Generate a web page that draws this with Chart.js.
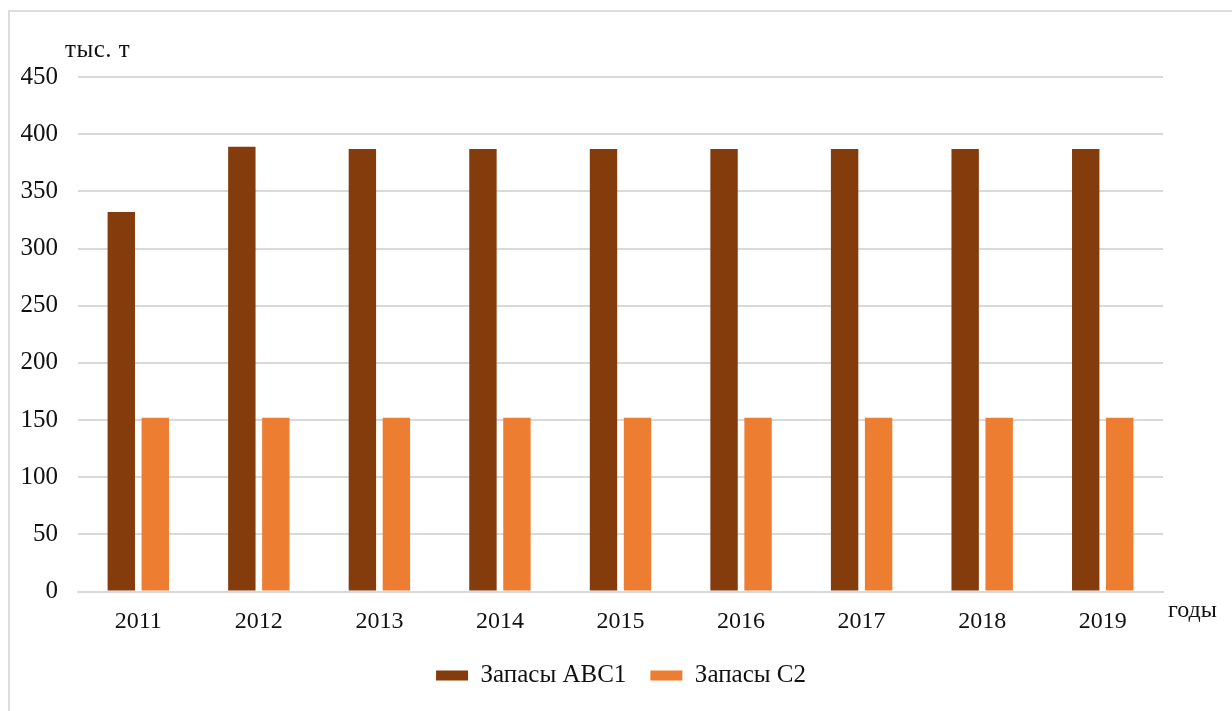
<!DOCTYPE html>
<html>
<head>
<meta charset="utf-8">
<script src="https://cdn.jsdelivr.net/npm/chart.js@4"></script>
<style>
  html, body { margin: 0; padding: 0; background: #fff; }
  #wrap { position: relative; width: 1232px; height: 711px; overflow: hidden; }
  #frame {
    position: absolute; left: 8px; top: 10px; width: 1240px; height: 720px;
    border: 2px solid #dcdcdc; box-sizing: border-box;
  }
  canvas { position: absolute; left: 0; top: 0; }
</style>
</head>
<body>
<div id="wrap">
  <div id="frame"></div>
  <canvas id="reservesChart" width="1232" height="711"></canvas>
</div>
<script>
const years = ["2011", "2012", "2013", "2014", "2015", "2016", "2017", "2018", "2019"];
const reservesABC1 = [332, 389, 387, 387, 387, 387, 387, 387, 387];
const reservesC2 = [152, 152, 152, 152, 152, 152, 152, 152, 152];
const yTicks = [0, 50, 100, 150, 200, 250, 300, 350, 400, 450];

const FONT = "'Liberation Serif', 'Times New Roman', serif";

// axis captions: units above the y axis, "годы" after the x axis
const axisCaptions = {
  id: "axisCaptions",
  afterDraw(chart) {
    const ctx = chart.ctx;
    const area = chart.chartArea;
    ctx.save();
    ctx.fillStyle = "#111";
    ctx.textBaseline = "alphabetic";
    ctx.textAlign = "left";
    ctx.font = "25px " + FONT;
    ctx.letterSpacing = "0.5px";
    ctx.fillText("тыс. т", 65, 57);
    ctx.letterSpacing = "0px";
    ctx.font = "24px " + FONT;
    ctx.fillText("годы", area.right + 5, 617);
    ctx.restore();
  },
};

// keep the legend box short and centre it on the whole canvas
const legendBox = {
  id: "legendBox",
  beforeInit(chart) {
    const legend = chart.legend;
    if (!legend) return;
    const fit = legend.fit;
    legend.fit = function () {
      fit.call(this);
      this.height = 60;
    };
  },
  afterLayout(chart) {
    const legend = chart.legend;
    if (!legend) return;
    legend.left = 10;
    legend.right = chart.width;
  },
};

document.addEventListener("DOMContentLoaded", () => {
  const ctx = document.getElementById("reservesChart").getContext("2d");
  new Chart(ctx, {
    type: "bar",
    data: {
      labels: years,
      datasets: [
        {
          label: "Запасы АВС1",
          data: reservesABC1,
          backgroundColor: "#843c0c",
          categoryPercentage: 0.564,
          barPercentage: 0.806,
        },
        {
          label: "Запасы С2",
          data: reservesC2,
          backgroundColor: "#ed7d31",
          categoryPercentage: 0.564,
          barPercentage: 0.806,
        },
      ],
    },
    options: {
      responsive: false,
      animation: false,
      layout: { padding: { left: 0, right: 69, top: 77, bottom: 12 } },
      plugins: {
        tooltip: { enabled: false },
        legend: {
          position: "bottom",
          labels: {
            boxWidth: 32,
            boxHeight: 10,
            padding: 24,
            color: "#111",
            font: { family: FONT, size: 25 },
          },
        },
      },
      scales: {
        x: {
          grid: { display: false, drawTicks: false },
          border: { display: true, color: "#d9d9d9", width: 2 },
          ticks: { color: "#111", padding: 16, font: { family: FONT, size: 24 } },
          afterFit(scale) { scale.height = 47.5; },
        },
        y: {
          min: 0,
          max: 450,
          afterBuildTicks(scale) { scale.ticks = yTicks.map((v) => ({ value: v })); },
          grid: { color: "#d9d9d9", lineWidth: 2, drawTicks: false },
          border: { display: false },
          ticks: { color: "#111", padding: 20, font: { family: FONT, size: 25 } },
          afterFit(scale) { scale.width = 78; },
        },
      },
    },
    plugins: [axisCaptions, legendBox],
  });
});
</script>
</body>
</html>
